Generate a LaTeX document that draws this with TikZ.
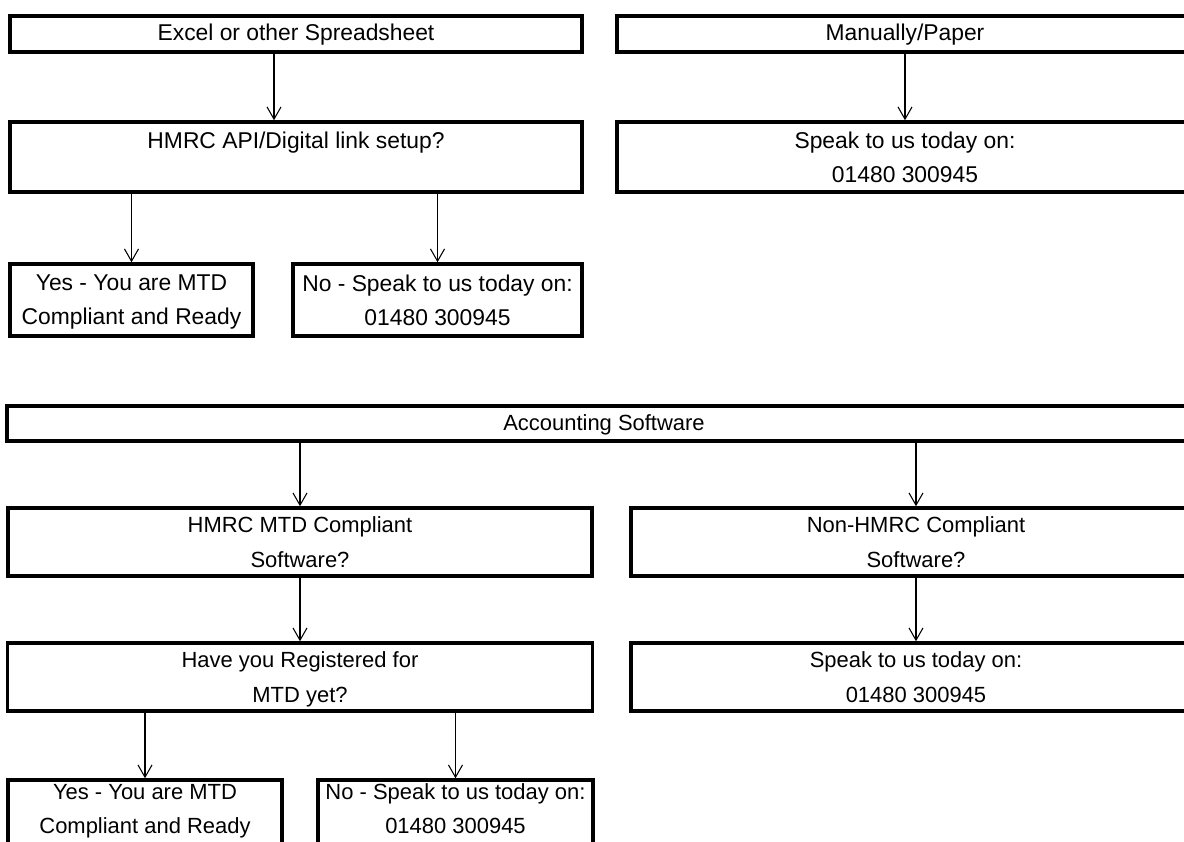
\documentclass[tikz,border=0pt]{standalone}
\usepackage{fontspec}
\setmainfont{Liberation Sans}
\usetikzlibrary{arrows.meta}

\begin{document}
\begin{tikzpicture}[x=0.02cm, y=-0.02cm,
  box/.style={draw, line width=2pt, inner sep=0pt, align=center, font=\fontsize{12.5}{19.5}\selectfont,
    execute at begin node=\strut, execute at end node=\strut},
  topbox/.style={box, font=\fontsize{13}{19.5}\selectfont},
  twoline/.style={text depth=-5pt},
  link/.style={line width=0.6pt, -{Straight Barb[length=7pt, width=8pt]}}]
	\clip (0,0) rectangle (1184,842);
	\node[topbox, minimum width=11.44cm, minimum height=0.72cm] (excel) at (296,34) {Excel or other Spreadsheet};
	\node[topbox, twoline, minimum width=11.44cm, minimum height=1.4cm] (api) at (296,157) {HMRC API/Digital link setup?\\~};
	\node[topbox, twoline, minimum width=4.86cm, minimum height=1.44cm] (yesa) at (131.5,300) {Yes - You are MTD\\Compliant and Ready};
	\node[topbox, twoline, minimum width=5.78cm, minimum height=1.44cm] (noa) at (437.5,300) {No - Speak to us today on:\\01480 300945};
	\node[topbox, minimum width=11.52cm, minimum height=0.72cm] (manual) at (905,34) {Manually/Paper};
	\node[topbox, twoline, minimum width=11.52cm, minimum height=1.4cm] (speaka) at (905,157) {Speak to us today on:\\01480 300945};
	\node[box, minimum width=23.88cm, minimum height=0.7cm] (acct) at (604,423.5) {Accounting Software};
	\node[box, twoline, minimum width=11.68cm, minimum height=1.36cm] (mtd) at (300,542) {HMRC MTD Compliant\\Software?};
	\node[box, twoline, minimum width=11.4cm, minimum height=1.36cm] (nonmtd) at (916,542) {Non-HMRC Compliant\\Software?};
	\node[box, twoline, minimum width=11.7cm, minimum height=1.36cm] (reg) at (300,677) {Have you Registered for\\MTD yet?};
	\node[box, twoline, minimum width=11.4cm, minimum height=1.36cm] (speakb) at (916,677) {Speak to us today on:\\01480 300945};
	\node[box, minimum width=5.48cm, minimum height=1.36cm] (yesb) at (145,814) {Yes - You are MTD\\Compliant and Ready};
	\node[box, minimum width=5.5cm, minimum height=1.36cm] (nob) at (455.5,814) {No - Speak to us today on:\\01480 300945};
	\draw[link] ([xshift=-0.44cm]excel.south) -- ([xshift=-0.44cm]api.north);
	\draw[link] (api.south -| yesa.north) -- (yesa.north);
	\draw[link] (api.south -| noa.north) -- (noa.north);
	\draw[link] (manual.south) -- (speaka.north);
	\draw[link] (acct.south -| mtd.north) -- (mtd.north);
	\draw[link] (acct.south -| nonmtd.north) -- (nonmtd.north);
	\draw[link] (mtd.south) -- (mtd.south |- reg.north);
	\draw[link] (nonmtd.south) -- (speakb.north);
	\draw[link] (reg.south -| yesb.north) -- (yesb.north);
	\draw[link] (reg.south -| nob.north) -- (nob.north);
\end{tikzpicture}
\end{document}
